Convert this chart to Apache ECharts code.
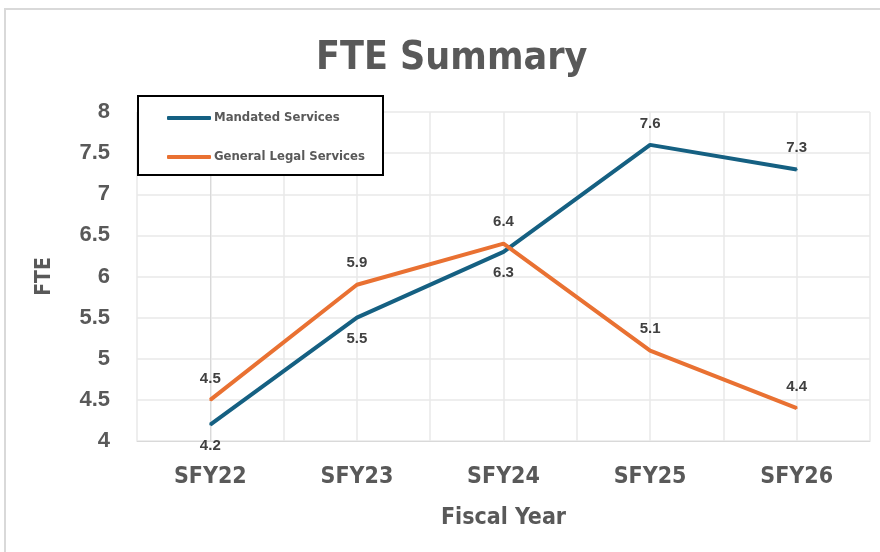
<!DOCTYPE html>
<html>
<head>
<meta charset="utf-8">
<script src="https://cdn.jsdelivr.net/npm/echarts@6/dist/echarts.min.js"></script>
<style>
  html, body { margin: 0; padding: 0; background: #fff; }
  #main { width: 880px; height: 552px; }
</style>
</head>
<body>
<div id="main"></div>
<script>
  const years = ['SFY22', 'SFY23', 'SFY24', 'SFY25', 'SFY26']
  const mandated = [4.2, 5.5, 6.3, 7.6, 7.3]
  const generalLegal = [4.5, 5.9, 6.4, 5.1, 4.4]
  // which side of the line each value label sits on
  const mandatedSide = ['bottom', 'bottom', 'bottom', 'top', 'top']
  const generalSide = ['top', 'top', 'top', 'top', 'top']

  const narrow = "'DejaVu Sans Condensed', sans-serif"
  const grey = '#595959'

  function points(vals, sides) {
    return vals.map((v, i) => ({ value: [i, v], label: { position: sides[i] } }))
  }

  const myChart = echarts.init(document.getElementById('main'))

  const option = {
    animation: false,
    title: {
      text: 'FTE Summary',
      left: 311, top: 34,
      textStyle: { fontFamily: narrow, fontSize: 39, fontWeight: 'bold', color: grey }
    },
    graphic: [
      { type: 'rect', z: -10, shape: { x: 5, y: 9, width: 900, height: 600 },
        style: { fill: 'none', stroke: '#d9d9d9', lineWidth: 2 } },
      { type: 'rect', z: 50, shape: { x: 138, y: 96, width: 245, height: 79 },
        style: { fill: '#fff', stroke: '#000', lineWidth: 2 } }
    ],
    legend: {
      orient: 'vertical',
      left: 162, top: 105,
      z: 60,
      itemWidth: 44, itemHeight: 4, itemGap: 23,
      icon: 'roundRect',
      textStyle: { fontFamily: narrow, fontSize: 13, fontWeight: 'bold', color: grey, padding: [0, 0, 0, -2], lineHeight: 16 },
      data: ['Mandated Services', 'General Legal Services']
    },
    grid: { left: 137, right: 10, top: 112, bottom: 111 },
    xAxis: {
      type: 'value',
      min: -0.5, max: 4.5, interval: 0.5,
      name: 'Fiscal Year',
      nameLocation: 'middle',
      nameGap: 66,
      nameTextStyle: { fontFamily: narrow, fontSize: 23, fontWeight: 'bold', color: grey },
      axisLine: { show: true, lineStyle: { color: '#d9d9d9', width: 1 } },
      axisTick: { show: false },
      splitLine: { show: true, lineStyle: { color: '#e8e8e8', width: 1.5 } },
      axisLabel: {
        margin: 25,
        fontFamily: narrow, fontSize: 23, fontWeight: 'bold', color: grey,
        showMinLabel: true, showMaxLabel: true,
        formatter: v => Number.isInteger(v) ? years[v] : ''
      }
    },
    yAxis: {
      type: 'value',
      min: 4, max: 8, interval: 0.5,
      name: 'FTE',
      nameLocation: 'middle',
      nameGap: 82,
      nameRotate: 90,
      nameTextStyle: { fontFamily: narrow, fontSize: 21, fontWeight: 'bold', color: grey },
      axisLine: { show: true, lineStyle: { color: '#d9d9d9', width: 1 } },
      axisTick: { show: false },
      splitLine: { show: true, lineStyle: { color: '#e8e8e8', width: 1.5 } },
      axisLabel: {
        margin: 27,
        fontFamily: 'Liberation Sans, Arial, sans-serif', fontSize: 22, fontWeight: 'bold', color: grey
      }
    },
    series: [
      {
        name: 'Mandated Services',
        type: 'line',
        data: points(mandated, mandatedSide),
        symbol: 'circle', symbolSize: 2,
        color: '#156082',
        lineStyle: { width: 4 },
        label: {
          show: true, distance: 13,
          fontFamily: 'Liberation Sans, Arial, sans-serif', fontSize: 15, fontWeight: 'bold', color: '#404040',
          formatter: p => p.value[1]
        }
      },
      {
        name: 'General Legal Services',
        type: 'line',
        data: points(generalLegal, generalSide),
        symbol: 'circle', symbolSize: 2,
        color: '#e97132',
        lineStyle: { width: 4 },
        label: {
          show: true, distance: 13,
          fontFamily: 'Liberation Sans, Arial, sans-serif', fontSize: 15, fontWeight: 'bold', color: '#404040',
          formatter: p => p.value[1]
        }
      }
    ]
  }

  option && myChart.setOption(option)
</script>
</body>
</html>
